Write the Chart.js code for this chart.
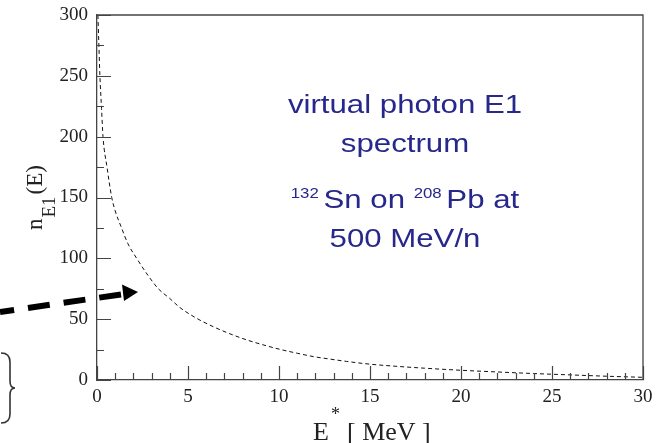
<!DOCTYPE html>
<html>
<head>
<meta charset="utf-8">
<script src="https://cdn.jsdelivr.net/npm/chart.js@4"></script>
<style>
  html, body { margin: 0; padding: 0; background: #fff; }
  canvas { display: block; }
</style>
</head>
<body>
<canvas id="spectrum-chart" width="661" height="443"></canvas>
<script>
// E* in MeV and n_E1(E)
const energy = [0.05, 0.1, 0.16, 0.25, 0.33, 0.55, 0.81, 1.0, 1.35, 1.7, 2.18, 2.8, 3.37, 4.0, 4.56, 5.5, 6.39, 7.3, 8.22, 9.1, 10.05, 11.0, 11.9, 12.8, 13.7, 15.0, 16.5, 18, 20, 22, 24, 26, 28, 30];
const nE1 = [300, 277, 250, 223, 200, 175, 150, 139, 125, 112, 100, 86, 75, 67, 59.5, 50.5, 43.8, 38, 33, 29, 25.2, 22, 19.2, 17.2, 15.3, 13.0, 11.2, 9.7, 8, 6.6, 5.3, 4.2, 3.1, 2.2];
const noteLines = ["virtual photon E1", "spectrum"];
const noteBeam = { proj: "132", projName: "Sn on ", targ: "208", targName: "Pb at" };
const noteEnergy = "500 MeV/n";

const serif = "'Liberation Serif', 'Times New Roman', serif";
const sans = "'Liberation Sans', Arial, sans-serif";
const navy = "#27278c";
const axisGrey = "#444";

const decor = {
  id: "decor",
  afterDraw(chart) {
    const ctx = chart.ctx;
    const xs = chart.scales.x, ys = chart.scales.y;
    const a = chart.chartArea;
    ctx.save();

    // frame top + right
    ctx.strokeStyle = axisGrey;
    ctx.lineWidth = 1.3;
    ctx.beginPath();
    ctx.moveTo(a.left, a.top);
    ctx.lineTo(a.right, a.top);
    ctx.lineTo(a.right, a.bottom);
    ctx.stroke();

    // inward ticks
    ctx.lineWidth = 1.2;
    ctx.beginPath();
    for (let v = 0; v <= 300; v += 25) {
      const y = Math.round(ys.getPixelForValue(v)) + 0.5;
      const len = v % 50 === 0 ? 14 : 7;
      ctx.moveTo(a.left, y);
      ctx.lineTo(a.left + len, y);
    }
    for (let v = 0; v <= 30; v += 1) {
      const x = Math.round(xs.getPixelForValue(v)) + 0.5;
      const len = v % 5 === 0 ? 14 : 7;
      ctx.moveTo(x, a.bottom);
      ctx.lineTo(x, a.bottom - len);
    }
    ctx.stroke();

    // y title: n_E1(E)
    ctx.fillStyle = "#222";
    ctx.textBaseline = "alphabetic";
    ctx.textAlign = "left";
    ctx.save();
    ctx.translate(42, 197.5);
    ctx.rotate(-Math.PI / 2);
    ctx.font = "23px " + serif;
    const wn = ctx.measureText("n").width;
    const wp = ctx.measureText("(E)").width;
    ctx.font = "19px " + serif;
    const ws = ctx.measureText("E1").width;
    let x0 = -(wn + ws + wp + 3) / 2;
    ctx.font = "23px " + serif;
    ctx.fillText("n", x0, 0);
    ctx.font = "19px " + serif;
    ctx.fillText("E1", x0 + wn + 1, 13);
    ctx.font = "23px " + serif;
    ctx.fillText("(E)", x0 + wn + ws + 3, 0);
    ctx.restore();

    // x title: E* [ MeV ]
    ctx.font = "26px " + serif;
    ctx.fillText("E", 313, 440);
    ctx.font = "18px " + serif;
    ctx.fillText("*", 331, 420);
    ctx.font = "26px " + serif;
    ctx.fillText("[ MeV ]", 347, 440);

    // blue notes (text is horizontally stretched in the original)
    const sx = 1.2;
    const cx = 405;
    ctx.fillStyle = navy;
    ctx.save();
    ctx.scale(sx, 1);
    ctx.textAlign = "center";
    ctx.font = "26px " + sans;
    ctx.fillText(noteLines[0], cx / sx, 113);
    ctx.fillText(noteLines[1], cx / sx, 152);
    ctx.fillText(noteEnergy, cx / sx, 247);
    ctx.textAlign = "left";
    ctx.font = "14px " + sans;
    const wP = ctx.measureText(noteBeam.proj + " ").width;
    const wT = ctx.measureText(noteBeam.targ + " ").width;
    ctx.font = "26px " + sans;
    const wPN = ctx.measureText(noteBeam.projName).width;
    const wTN = ctx.measureText(noteBeam.targName).width;
    let bx = cx / sx - (wP + wPN + wT + wTN) / 2;
    ctx.font = "14px " + sans;
    ctx.fillText(noteBeam.proj, bx, 198);
    bx += wP;
    ctx.font = "26px " + sans;
    ctx.fillText(noteBeam.projName, bx, 208);
    bx += wPN;
    ctx.font = "14px " + sans;
    ctx.fillText(noteBeam.targ, bx, 198);
    bx += wT;
    ctx.font = "26px " + sans;
    ctx.fillText(noteBeam.targName, bx, 208);
    ctx.restore();

    // thick dashed arrow coming in from the left
    ctx.strokeStyle = "#000";
    ctx.fillStyle = "#000";
    ctx.lineWidth = 6;
    ctx.setLineDash([22, 14]);
    ctx.beginPath();
    ctx.moveTo(121, 294.5);
    ctx.lineTo(0, 312);
    ctx.stroke();
    ctx.setLineDash([]);
    ctx.beginPath();
    ctx.moveTo(122, 284.5);
    ctx.lineTo(138, 292);
    ctx.lineTo(124, 301);
    ctx.closePath();
    ctx.fill();

    // curly brace, bottom-left
    ctx.strokeStyle = "#333";
    ctx.lineWidth = 1.6;
    ctx.beginPath();
    ctx.moveTo(1, 353);
    ctx.quadraticCurveTo(10, 353, 10, 362);
    ctx.lineTo(10, 381);
    ctx.quadraticCurveTo(10, 388, 15, 388);
    ctx.quadraticCurveTo(10, 388, 10, 395);
    ctx.lineTo(10, 414);
    ctx.quadraticCurveTo(10, 423, 1, 423);
    ctx.stroke();

    ctx.restore();
  }
};

new Chart(document.getElementById("spectrum-chart"), {
  type: "line",
  data: {
    datasets: [{
      data: energy.map((e, i) => ({ x: e, y: nE1[i] })),
      borderColor: "#111",
      borderWidth: 1,
      borderDash: [4, 3],
      pointRadius: 0,
      fill: false,
      cubicInterpolationMode: "monotone"
    }]
  },
  options: {
    responsive: false,
    animation: false,
    layout: { padding: { top: 15, right: 18, left: 0, bottom: 0 } },
    plugins: { legend: { display: false }, tooltip: { enabled: false } },
    scales: {
      x: {
        type: "linear",
        min: 0,
        max: 30,
        grid: { display: false, drawTicks: false },
        border: { display: true, color: axisGrey, width: 1.3 },
        ticks: { stepSize: 5, padding: 6, color: "#222", font: { family: serif, size: 19 }, maxRotation: 0 },
        afterFit(scale) { scale.height = 63; scale.paddingLeft = 0; scale.paddingRight = 0; }
      },
      y: {
        min: 0,
        max: 300,
        grid: { display: false, drawTicks: false },
        border: { display: true, color: axisGrey, width: 1.3 },
        ticks: { stepSize: 50, padding: 9, color: "#222", font: { family: serif, size: 19 } },
        afterFit(scale) { scale.width = 97; scale.paddingTop = 0; scale.paddingBottom = 0; }
      }
    }
  },
  plugins: [decor]
});
</script>
</body>
</html>
